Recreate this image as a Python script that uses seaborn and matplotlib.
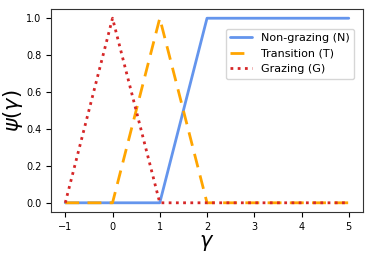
import seaborn as sns
import matplotlib.pyplot as plt

# membership function breakpoints
gamma_n = [-1, 0, 1, 2, 3, 4, 5]
psi_n = [0, 0, 0, 1, 1, 1, 1]

gamma_t = [-1, 0, 1, 2, 3, 4, 5]
psi_t = [0, 0, 1, 0, 0, 0, 0]

gamma_g = [-1, 0, 1, 2, 3, 4, 5]
psi_g = [0, 1, 0, 0, 0, 0, 0]

labels = ["Non-grazing (N)", "Transition (T)", "Grazing (G)"]

sns.set_style("ticks", rc={"text.color": "black", "axes.labelcolor": "black",
                           "xtick.color": "black", "ytick.color": "black",
                           "axes.edgecolor": "#333333"})
fig, ax = plt.subplots(figsize=(3.73, 2.57), dpi=100)

sns.lineplot(x=gamma_n, y=psi_n, ax=ax, color="cornflowerblue", lw=2, label=labels[0])
sns.lineplot(x=gamma_t, y=psi_t, ax=ax, color="orange", lw=2, ls=(0, (5, 3)), label=labels[1])
sns.lineplot(x=gamma_g, y=psi_g, ax=ax, color="#d62728", lw=2, ls=(0, (1, 1.6)), label=labels[2])

ax.set_xticks([-1, 0, 1, 2, 3, 4, 5])
ax.set_yticks([0, 0.2, 0.4, 0.6, 0.8, 1.0])
ax.tick_params(labelsize=7)
ax.set_xlabel(r"$\gamma$", fontsize=15, labelpad=1)
ax.set_ylabel(r"$\psi(\gamma)$", fontsize=15, labelpad=1)
ax.legend(loc="upper right", bbox_to_anchor=(0.99, 0.93), fontsize=8)

plt.subplots_adjust(left=0.137, right=0.973, top=0.965, bottom=0.175)
plt.savefig("out.png")
